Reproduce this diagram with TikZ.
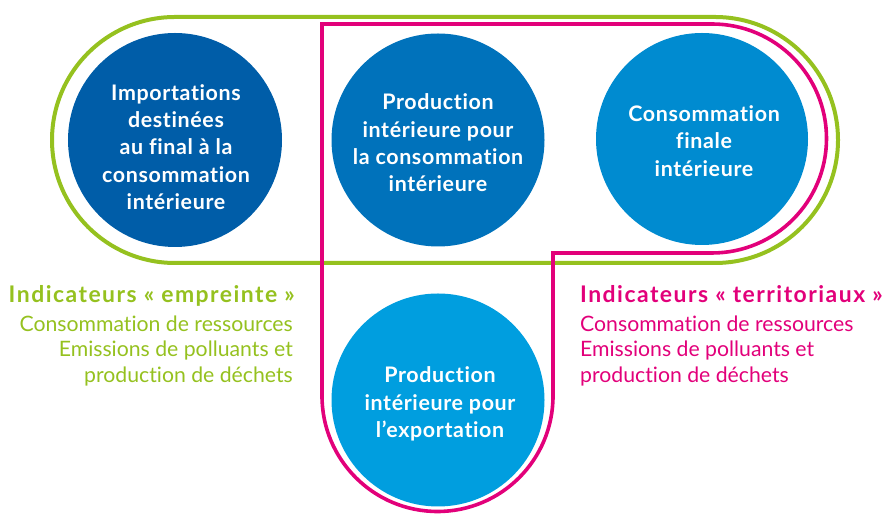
\documentclass[tikz,border=0pt]{standalone}
\usepackage{fontspec}
\setmainfont{Lato}[Ligatures=NoCommon]
\definecolor{cA}{HTML}{005DA8}
\definecolor{cB}{HTML}{0072BB}
\definecolor{cC}{HTML}{008BD0}
\definecolor{cD}{HTML}{009EDF}
\definecolor{vert}{HTML}{95C11F}
\definecolor{rose}{HTML}{E2007A}
\tikzset{
  disc/.style={circle, inner sep=0pt, minimum size=#1},
  ctext/.style={text=white, align=center, font=\fontsize{21.5}{27.4}\selectfont\bfseries\addfontfeatures{LetterSpace=3}},
  vline/.style={line width=4bp, vert},
  rline/.style={line width=3.6bp, rose},
  legbold/.style={font=\fontsize{23}{24}\selectfont\bfseries\addfontfeatures{LetterSpace=6.5}, inner sep=0pt},
  legtxt/.style={font=\fontsize{21.3}{24}\selectfont, inner sep=0pt},
}
\begin{document}
\begin{tikzpicture}[x=1bp, y=1bp]
\useasboundingbox (0,0) rectangle (883,516);
% green stadium
\draw[vline, rounded corners=123bp] (52,253) rectangle (838,499);
% magenta outline
\coordinate (m1) at (553,263);
\draw[rline, line join=miter] (m1) -- (553,120) arc[start angle=0, end angle=-180, radius=115.5] -- (322,492) -- (712,492) arc[start angle=90, end angle=-90, radius=114.5] -- cycle;
% circles
\node[disc=214bp, fill=cA] (d1) at (175,376) {};
\node[disc=213bp, fill=cB] (d2) at (438,376) {};
\node[disc=212bp, fill=cC] (d3) at (702,377) {};
\node[disc=213bp, fill=cD] (d4) at (438,116) {};
\node[ctext] (t1) at (176,369) {Importations\\destinées\\au final à la\\consommation\\intérieure};
\node[ctext] (t2) at (438,373) {Production\\intérieure pour\\la consommation\\intérieure};
\node[ctext] (t3) at (704,375) {Consommation\\finale\\intérieure};
\node[ctext] (t4) at (440,112) {Production\\intérieure pour\\l’exportation};
% left legend
\node[legbold, text=vert, anchor=base east] (l1) at (295,213) {Indicateurs « empreinte »};
\node[legtxt, text=vert, anchor=base east] (l2) at (293,184) {Consommation de ressources};
\node[legtxt, text=vert, anchor=base east] (l3) at (293,159) {Emissions de polluants et};
\node[legtxt, text=vert, anchor=base east] (l4) at (293,133) {production de déchets};
% right legend
\node[legbold, text=rose, anchor=base west] (r1) at (580,213) {Indicateurs « territoriaux »};
\node[legtxt, text=rose, anchor=base west] (r2) at (580,184) {Consommation de ressources};
\node[legtxt, text=rose, anchor=base west] (r3) at (580,159) {Emissions de polluants et};
\node[legtxt, text=rose, anchor=base west] (r4) at (580,133) {production de déchets};
\end{tikzpicture}
\end{document}
